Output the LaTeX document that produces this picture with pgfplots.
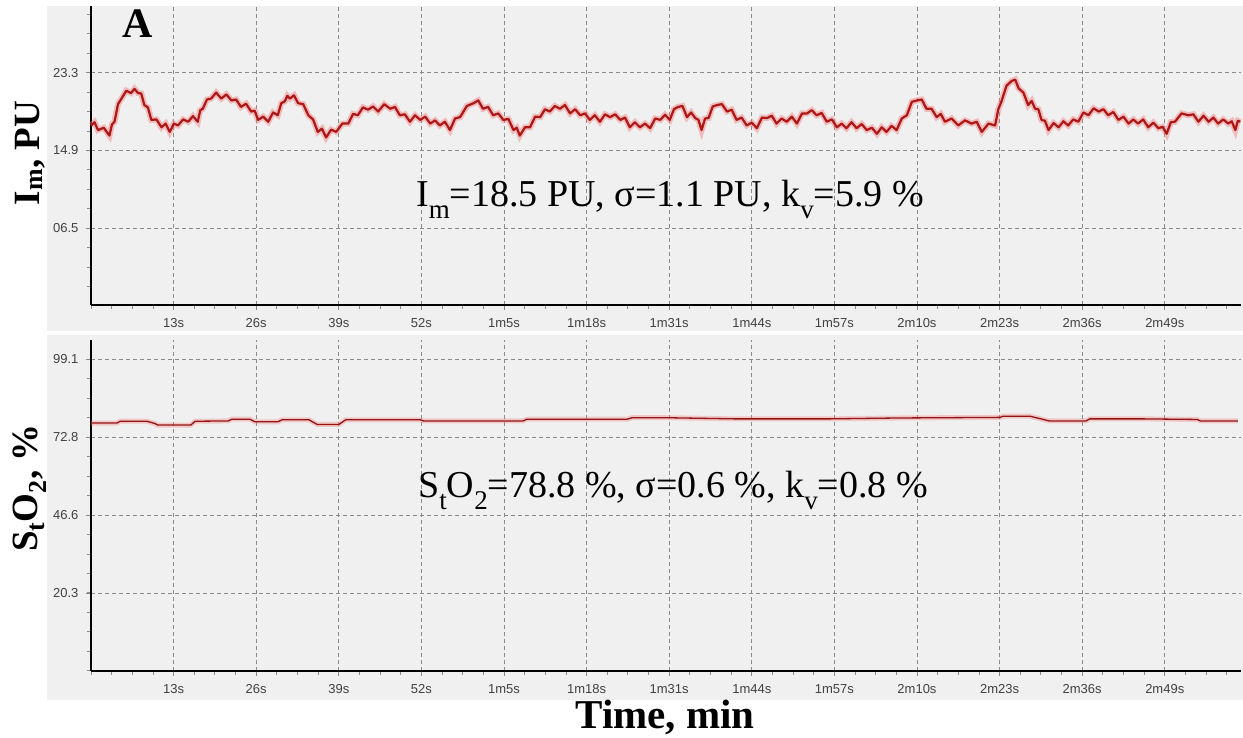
\documentclass[border=0pt]{standalone}
\usepackage{fontspec}
\setmainfont{Liberation Serif}
\newfontfamily\sans{Liberation Sans}
\usepackage{pgfplots}
\usepackage{pgfplotstable}
\pgfplotsset{compat=1.18}

\definecolor{panel}{HTML}{F0F0F0}
\definecolor{trace}{RGB}{175,22,22}
\definecolor{glow}{RGB}{240,125,125}
\definecolor{gridc}{HTML}{8A8A8A}

\newcommand\sub[1]{\raisebox{-0.3em}{\fontsize{27bp}{27bp}\selectfont #1}}

% I_m trace, PU
\pgfplotstableread[row sep=\\]{
t v\\
0.0 17.6\\ 0.55 17.95\\ 1.1 17.1\\ 2.0 17.35\\ 2.9 16.5\\ 3.3 17.7\\ 3.7 18.0\\ 4.25 19.9\\
4.8 20.5\\ 5.55 21.35\\ 6.3 21.1\\ 6.85 21.55\\ 7.4 21.1\\ 7.9 21.05\\ 8.4 19.8\\ 8.95 19.55\\
9.5 18.2\\ 10.3 18.25\\ 11.1 17.4\\ 11.75 17.8\\ 12.4 16.9\\ 13.05 17.8\\ 13.7 17.6\\ 14.5 18.25\\
15.3 18.0\\ 16.05 18.6\\ 16.8 18.0\\ 17.2 19.25\\ 17.6 19.4\\ 18.25 20.4\\ 18.9 20.5\\ 19.7 21.15\\
20.5 20.5\\ 21.3 20.95\\ 22.1 20.3\\ 22.85 20.4\\ 23.6 19.6\\ 24.4 19.95\\ 25.2 19.1\\ 25.75 19.2\\
26.3 18.2\\ 27.1 18.55\\ 27.9 18.0\\ 28.65 19.0\\ 29.4 18.7\\ 29.95 20.0\\ 30.5 20.2\\ 30.9 20.8\\
31.3 20.5\\ 31.95 20.85\\ 32.6 20.0\\ 33.4 19.9\\ 34.2 18.7\\ 34.95 18.25\\ 35.7 16.9\\ 36.35 17.25\\
37.0 16.3\\ 37.8 17.15\\ 38.6 16.9\\ 39.55 17.8\\ 40.5 17.8\\ 41.25 18.85\\ 42.0 18.7\\ 42.8 19.55\\
43.6 19.3\\ 44.4 19.65\\ 45.2 19.1\\ 46.15 19.9\\ 47.1 19.4\\ 47.85 19.6\\ 48.6 18.7\\ 49.4 18.8\\
50.2 18.0\\ 51.0 18.7\\ 51.8 18.2\\ 52.6 18.55\\ 53.4 17.8\\ 54.15 18.15\\ 54.9 17.6\\ 55.7 18.0\\
56.5 17.1\\ 57.3 18.35\\ 58.1 18.5\\ 59.15 19.7\\ 60.2 20.0\\ 60.95 20.3\\ 61.7 19.4\\ 62.5 19.6\\
63.3 18.7\\ 64.1 18.9\\ 64.9 18.2\\ 65.7 18.3\\ 66.5 17.1\\ 67.0 17.35\\ 67.5 16.5\\ 68.3 17.4\\
69.1 17.4\\ 69.9 18.55\\ 70.7 18.5\\ 71.45 19.35\\ 72.2 19.1\\ 73.0 19.7\\ 73.8 19.4\\ 74.6 19.8\\
75.4 18.9\\ 76.2 19.35\\ 77.0 18.7\\ 77.75 18.9\\ 78.5 18.2\\ 79.3 18.7\\ 80.1 18.0\\ 80.9 18.8\\
81.7 18.5\\ 82.5 18.8\\ 83.3 18.2\\ 84.05 18.45\\ 84.8 17.4\\ 85.6 17.95\\ 86.4 17.4\\ 87.2 17.8\\
88.0 17.3\\ 88.8 18.35\\ 89.6 18.2\\ 90.35 18.75\\ 91.1 18.2\\ 91.75 19.35\\ 92.4 19.6\\ 93.1 19.7\\
93.8 18.5\\ 94.45 19.0\\ 95.1 18.4\\ 95.6 18.2\\ 96.1 17.1\\ 96.65 18.35\\ 97.2 18.4\\ 97.85 19.65\\
98.5 19.8\\ 99.3 19.9\\ 100.1 19.1\\ 100.85 19.3\\ 101.6 18.2\\ 102.4 18.45\\ 103.2 17.6\\ 104.0 17.9\\
104.8 17.3\\ 105.6 18.45\\ 106.4 18.4\\ 107.15 18.65\\ 107.9 17.8\\ 108.7 18.35\\ 109.5 18.0\\ 110.3 18.55\\
111.1 17.8\\ 111.9 18.9\\ 112.7 18.9\\ 113.45 19.25\\ 114.2 18.7\\ 115.0 18.95\\ 115.8 18.0\\ 116.6 18.25\\
117.4 17.4\\ 118.15 17.8\\ 118.9 17.3\\ 119.7 17.95\\ 120.5 17.3\\ 121.3 17.75\\ 122.1 17.1\\ 122.9 17.35\\
123.7 16.7\\ 124.45 17.4\\ 125.2 16.9\\ 126.0 17.55\\ 126.8 17.1\\ 127.6 18.35\\ 128.4 18.7\\ 129.2 20.15\\
130.0 20.3\\ 130.75 20.4\\ 131.5 19.4\\ 132.3 19.4\\ 133.1 18.5\\ 133.75 18.85\\ 134.4 18.0\\ 135.45 18.35\\
136.5 17.6\\ 137.55 18.15\\ 138.6 17.8\\ 139.4 18.0\\ 140.2 16.9\\ 141.25 17.8\\ 142.3 17.6\\ 142.8 19.35\\
143.3 20.2\\ 144.1 21.9\\ 144.9 22.4\\ 145.45 22.55\\ 146.0 21.6\\ 146.75 21.15\\ 147.5 19.8\\ 148.05 20.25\\
148.6 19.4\\ 149.1 19.35\\ 149.6 18.2\\ 150.15 18.1\\ 150.7 17.1\\ 151.5 17.85\\ 152.3 17.4\\ 153.05 18.05\\
153.8 17.6\\ 154.6 18.25\\ 155.4 18.0\\ 156.2 19.0\\ 157.0 18.7\\ 157.8 19.45\\ 158.6 19.1\\ 159.35 19.35\\
160.1 18.7\\ 160.9 19.05\\ 161.7 18.2\\ 162.5 18.55\\ 163.3 17.8\\ 164.05 18.25\\ 164.8 17.8\\ 165.6 18.25\\
166.4 17.4\\ 167.2 17.9\\ 168.0 17.3\\ 168.65 17.45\\ 169.3 16.7\\ 169.95 17.95\\ 170.6 18.0\\ 171.65 18.9\\
172.7 18.7\\ 173.5 18.8\\ 174.3 18.0\\ 175.1 18.65\\ 175.9 18.0\\ 176.65 18.45\\ 177.4 17.8\\ 178.2 18.25\\
179.0 17.8\\ 179.55 18.05\\ 180.1 17.1\\ 180.5 18.1\\ 180.9 18.0\\
}\imdata

% StO2 trace, %
\pgfplotstableread[row sep=\\]{
t v\\
0.0 77.6\\ 4.1 77.6\\ 4.6 78.2\\ 8.8 78.2\\ 10.1 77.4\\ 10.5 76.9\\ 15.7 76.9\\ 16.4 78.2\\
21.6 78.3\\ 22.2 78.9\\ 25.0 78.9\\ 25.8 78.0\\ 29.4 78.0\\ 30.1 78.7\\ 34.3 78.7\\ 35.6 77.1\\
39.0 77.1\\ 40.1 78.7\\ 51.8 78.7\\ 52.3 78.3\\ 68.0 78.3\\ 68.6 78.9\\ 84.4 78.9\\ 85.2 79.4\\
90.2 79.4\\ 101.2 79.0\\ 116.3 79.0\\ 127.3 79.3\\ 143.1 79.5\\ 143.5 79.9\\ 147.8 79.9\\ 150.8 78.3\\
156.6 78.3\\ 157.2 79.0\\ 165.3 79.0\\ 174.1 78.8\\ 174.6 78.3\\ 180.5 78.3\\
}\stodata

\pgfplotsset{
  monitor/.style={
    scale only axis, width=1150bp, xmin=0, xmax=181,
    axis x line*=bottom, axis y line*=left,
    axis line style={line width=2.6bp, black, -},
    xtick={13,26,...,169},
    xticklabels={13s,26s,39s,52s,1m5s,1m18s,1m31s,1m44s,1m57s,2m10s,2m23s,2m36s,2m49s},
    minor xtick={0,3.25,...,180.5},
    tick align=outside,
    major tick length=5bp, minor tick length=4bp,
    tick style={gridc, line width=0.8bp},
    grid=major,
    major grid style={gridc, line width=0.8bp, dash pattern=on 4bp off 3bp},
    ticklabel style={font=\sans\fontsize{13bp}{15bp}\selectfont, text=black!75},
    xticklabel style={yshift=-5bp},
    yticklabel style={xshift=-4bp},
    clip=false,
  },
}

\begin{document}
\begin{tikzpicture}
\useasboundingbox (0,0) rectangle (1243bp,738bp);
\fill[panel] (47bp,407bp) rectangle (1243bp,732bp);
\fill[panel] (47bp,38bp) rectangle (1243bp,403bp);

\begin{axis}[monitor,
  at={(91bp,433bp)}, anchor=south west, height=299bp,
  ymin=-1.79, ymax=30.5,
  ytick={6.5,14.9,23.3}, yticklabels={06.5,14.9,23.3},
  minor ytick={-1.9,0.2,...,30.3},
]
\addplot[glow, line width=6bp, opacity=0.45] table[x=t, y=v] {\imdata};
\addplot[trace, line width=2.2bp, line join=round] table[x=t, y=v] {\imdata};
\end{axis}

\begin{axis}[monitor,
  at={(91bp,67bp)}, anchor=south west, height=331bp,
  ymin=-6.04, ymax=105.6,
  ytick={20.3,46.6,72.8,99.1}, yticklabels={20.3,46.6,72.8,99.1},
  minor ytick={-5.95,0.6175,...,105.6},
]
\addplot[glow, line width=5bp, opacity=0.35] table[x=t, y=v] {\stodata};
\addplot[trace!85!black, line width=1.3bp] table[x=t, y=v] {\stodata};
\end{axis}

\node[font=\fontsize{38bp}{40bp}\selectfont, anchor=base west, inner sep=0pt] at (416bp,531bp)
  {I\sub{m}=18.5 PU, σ=1.1 PU, k\sub{v}=5.9 \%};
\node[font=\fontsize{38bp}{40bp}\selectfont, anchor=base west, inner sep=0pt] at (418bp,240bp)
  {S\sub{t}O\sub{2}=78.8 \%, σ=0.6 \%, k\sub{v}=0.8 \%};

\node[rotate=90, font=\bfseries\fontsize{37bp}{40bp}\selectfont] at (30bp,585bp)
  {I\textsubscript{m}, PU};
\node[rotate=90, font=\bfseries\fontsize{37bp}{40bp}\selectfont] at (30bp,250bp)
  {S\textsubscript{t}O\textsubscript{2}, \%};
\node[font=\bfseries\fontsize{42bp}{42bp}\selectfont] at (138bp,714bp) {A};
\node[font=\bfseries\fontsize{41bp}{44bp}\selectfont, anchor=base, inner sep=0pt] at (665bp,10bp) {Time, min};
\end{tikzpicture}
\end{document}
